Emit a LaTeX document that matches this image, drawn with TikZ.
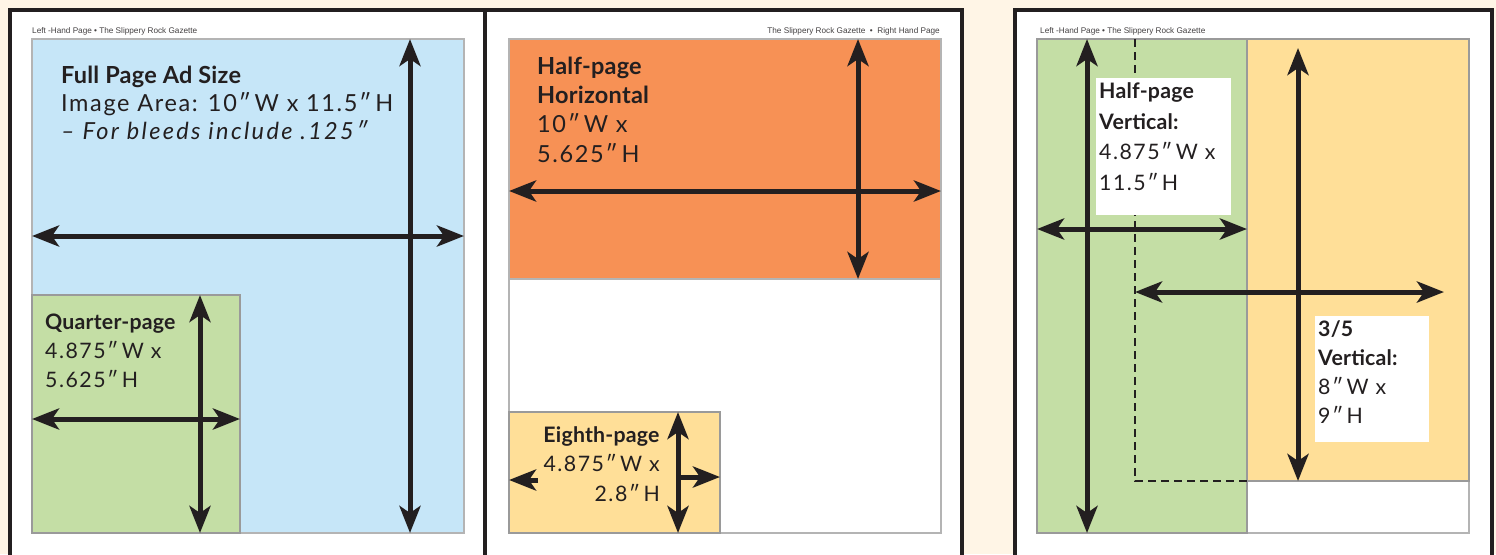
\documentclass[tikz,border=0pt]{standalone}
\usepackage{fontspec}
\setmainfont{Lato}[LetterSpace=7,BoldFeatures={LetterSpace=1},ItalicFeatures={LetterSpace=10}]
\newfontfamily\headfont{Liberation Sans}
\usetikzlibrary{arrows.meta}
\usetikzlibrary{positioning}
\definecolor{cream}{HTML}{FFF5E6}
\definecolor{ink}{HTML}{231F20}
\definecolor{rulegrey}{HTML}{B4B4B4}
\definecolor{boxgrey}{HTML}{9A9A9A}
\definecolor{adblue}{HTML}{C6E6F8}
\definecolor{adgreen}{HTML}{C4DEA5}
\definecolor{adorange}{HTML}{F79155}
\definecolor{adyellow}{HTML}{FFDF98}
\tikzset{
page/.style={draw=ink,line width=4pt,fill=white},
area/.style={draw=rulegrey,line width=1.5pt,anchor=north west,inner sep=0pt,outer sep=0pt},
adbox/.style={area,draw=boxgrey},
dim/.style={draw=ink,line width=5pt,{Stealth[length=27pt,width=21pt,inset=7pt]}-{Stealth[length=27pt,width=21pt,inset=7pt]}},
halfdim/.style={draw=ink,line width=5pt,-{Stealth[length=27pt,width=21pt,inset=7pt]}},
fold/.style={draw=ink,line width=2.8pt,dash pattern=on 8pt off 5pt},
labelbox/.style={fill=white,anchor=north west,inner sep=0pt,outer sep=0pt},
adtext/.style={anchor=base west,align=left,inner sep=0pt,text=ink,font=\fontsize{23.5}{28}\selectfont},
smalltext/.style={adtext,font=\fontsize{21.3}{29}\selectfont},
pagehead/.style={anchor=base west,inner sep=0pt,text=ink!85,font=\headfont\fontsize{8.2}{9}\selectfont}
}
\begin{document}
\begin{tikzpicture}[x=1pt,y=-1pt]
\useasboundingbox (0,0) rectangle (1496,554);
\clip (0,0) rectangle (1496,554);
\fill[cream] (0,0) rectangle (1496,554);
\foreach \l/\r in {9.5/485, 485/962, 1015/1491.5}
  \draw[page] (\l,9.5) rectangle (\r,600);

\node[pagehead] (head1) at (32,33) {Left -Hand Page \textbullet\ The Slippery Rock Gazette};
\node[area,fill=adblue,minimum width=432,minimum height=494] (full) at (32,39) {};
\node[adbox,fill=adgreen,minimum width=208,minimum height=238] (qtr) at (32,295) {};
\coordinate (fullx) at (410,0);
\coordinate (fully) at (0,236);
\coordinate (qtrx) at (200,0);
\coordinate (qtry) at (0,419);
\draw[dim] (full.north -| fullx) -- (full.south -| fullx);
\draw[dim] (full.west |- fully) -- (full.east |- fully);
\draw[dim] (qtr.north -| qtrx) -- (qtr.south -| qtrx);
\draw[dim] (qtr.west |- qtry) -- (qtr.east |- qtry);
\node[adtext] (fulltext) at (61,139) {\textbf{Full Page Ad Size}\\Image Area: 10″\,W x 11.5″\,H\\\textit{– For bleeds include .125″}};
\node[smalltext] (qtrtext) at (45,387) {\textbf{Quarter-page}\\4.875″\,W x\\5.625″\,H};

\node[pagehead,anchor=base east] (head2) at (940,33) {The Slippery Rock Gazette \ \textbullet\ \ Right Hand Page};
\node[area,fill=white,minimum width=432,minimum height=494] (right) at (509,39) {};
\node[area,fill=adorange,minimum width=432,minimum height=240] (halfh) at (509,39) {};
\node[adbox,fill=adyellow,minimum width=211,minimum height=121] (eighth) at (509,412) {};
\coordinate (halfx) at (858,0);
\coordinate (halfy) at (0,191);
\coordinate (eighthx) at (678,0);
\coordinate (eleft) at (538,480);
\coordinate (eright) at (678,477);
\draw[dim] (halfh.north -| halfx) -- (halfh.south -| halfx);
\draw[dim] (halfh.west |- halfy) -- (halfh.east |- halfy);
\draw[dim] (eighth.north -| eighthx) -- (eighth.south -| eighthx);
\draw[halfdim] (eleft) -- (eighth.west |- eleft);
\draw[halfdim] (eright) -- (eighth.east |- eright);
\node[adtext,font=\fontsize{23.5}{29.3}\selectfont] (halfhtext) at (537,162) {\textbf{Half-page}\\\textbf{Horizontal}\\10″\,W x\\5.625″\,H};
\node[smalltext,anchor=base east,align=right,font=\fontsize{21.3}{29.5}\selectfont] (eighthtext) at (660,501) {\textbf{Eighth-page}\\4.875″\,W x\\2.8″\,H};

\node[pagehead] (head3) at (1040,33) {Left -Hand Page \textbullet\ The Slippery Rock Gazette};
\node[area,fill=white,minimum width=432,minimum height=494] (left) at (1037,39) {};
\node[adbox,fill=adgreen,minimum width=210,minimum height=494] (halfv) at (1037,39) {};
\node[adbox,fill=adyellow,minimum width=222,minimum height=442] (tfv) at (1247,39) {};
\coordinate (foldtop) at (1135,39);
\coordinate (foldbot) at (1135,481);
\draw[fold] (foldtop) -- (foldbot) -- (tfv.south west);
\coordinate (halfvx) at (1087,0);
\coordinate (halfvy) at (0,229);
\coordinate (tftop) at (1298,48);
\coordinate (tfright) at (1444,292);
\draw[dim] (halfv.north -| halfvx) -- (halfv.south -| halfvx);
\draw[dim] (halfv.west |- halfvy) -- (halfv.east |- halfvy);
\draw[dim] (tftop) -- (tfv.south -| tftop);
\draw[dim] (foldtop |- tfright) -- (tfright);
\node[labelbox,minimum width=135.5,minimum height=137] (hvbox) at (1095.5,78) {};
\node[smalltext,font=\fontsize{21.3}{30.4}\selectfont] (hvtext) at (1099,190) {\textbf{Half-page}\\\textbf{Vertical:}\\4.875″\,W x\\11.5″\,H};
\node[labelbox,minimum width=114,minimum height=126] (tfbox) at (1315,316) {};
\node[smalltext,font=\fontsize{21.3}{28.8}\selectfont] (tftext) at (1318,423) {\textbf{3/5}\\\textbf{Vertical:}\\8″\,W x\\9″\,H};
\end{tikzpicture}
\end{document}
